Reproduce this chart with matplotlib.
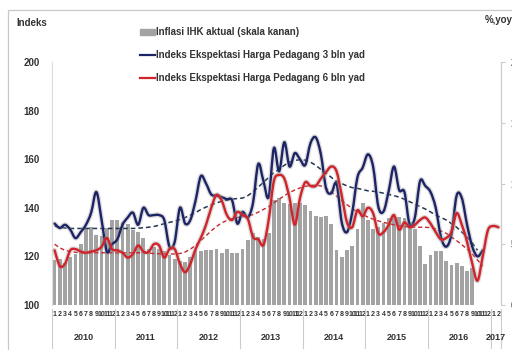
import numpy as np
import matplotlib
matplotlib.use("Agg")
import matplotlib.pyplot as plt
from matplotlib.path import Path
from matplotlib.patches import PathPatch, Rectangle
import matplotlib.patheffects as pe

plt.rcParams['font.family'] = ['Liberation Sans', 'DejaVu Sans']

# Data: monthly, Jan 2010 .. Feb 2017
years = ['2010', '2011', '2012', '2013', '2014', '2015', '2016', '2017']
n_months = 86

# CPI inflation (% yoy), Jan 2010 .. Sep 2016
inflasi = [3.72, 3.81, 3.43, 3.91, 4.16, 5.05, 6.22, 6.44, 5.80, 5.67, 6.33, 6.96,
           7.02, 6.84, 6.65, 6.16, 5.98, 5.54, 4.61, 4.79, 4.61, 4.42, 4.15, 3.79,
           3.65, 3.56, 3.97, 4.50, 4.45, 4.53, 4.56, 4.58, 4.31, 4.61, 4.32, 4.30,
           4.57, 5.31, 5.90, 5.57, 5.47, 5.90, 8.61, 8.79, 8.40, 8.32, 8.37, 8.38,
           8.22, 7.75, 7.32, 7.25, 7.32, 6.70, 4.53, 3.99, 4.53, 4.83, 6.23, 8.36,
           6.96, 6.29, 6.38, 6.79, 7.15, 7.26, 7.26, 7.18, 6.83, 6.25, 4.89, 3.35,
           4.14, 4.42, 4.45, 3.60, 3.33, 3.45, 3.21, 2.79, 3.07]

# price expectation index, 3 months ahead (Jan 2010 .. Nov 2016)
ekspektasi_3 = [133.5, 131.7, 133, 131, 127.5, 130, 133, 138, 146.5, 135, 122, 125,
                127, 133, 136, 138, 133, 140, 137, 137, 137, 135, 124, 126,
                140, 133.5, 135, 143, 153, 150, 145.5, 145, 144.4, 143.5, 143, 133.5,
                138.3, 136, 142, 158, 151, 144.4, 164.6, 155, 167, 157, 162.5, 160,
                157.6, 166.5, 169, 162, 148, 146, 150, 134, 130, 138, 152.5, 156.5,
                162, 157, 140.5, 138.5, 147, 157, 147.3, 146.5, 133, 136, 151, 149,
                146.5, 140, 128, 124, 129, 145, 144, 133, 124, 120, 122.5]

# price expectation index, 6 months ahead (Jan 2010 .. Feb 2017)
ekspektasi_6 = [122.5, 116, 117, 122.5, 123, 122, 121.5, 122, 122.5, 124, 127.6, 123,
                122.5, 121.5, 119.5, 121, 124.5, 122, 121.8, 125, 124.5, 119.5, 123, 123,
                117, 113.5, 117, 123, 127.6, 133, 140, 145.3, 143, 137, 135, 138.3,
                137, 135.5, 128, 127, 124.7, 135, 151, 153.5, 152, 144, 133, 144,
                150.5, 149, 149, 152, 154.7, 157, 155, 145, 134, 132, 139, 136.5,
                140, 137.8, 129.5, 130, 133, 137, 131, 134, 132, 133, 135, 136,
                133.5, 130, 127, 127.6, 130, 137.8, 133, 126, 117, 110, 120, 130.8,
                132.5, 132]

# trend of each expectation series
tren_3 = [132.5, 132, 131.7, 131.5, 131.5, 131.5, 131.5, 131.5, 131.5, 131.5, 131.5, 131.5,
          131.5, 131.5, 131.5, 131.5, 131.6, 131.8, 132, 132.3, 132.8, 133.5, 134, 134.5,
          135.2, 136, 137, 138, 139.3, 140.3, 141.2, 142, 142.7, 143.2, 143.6, 143.8,
          144, 145, 146.5, 148.5, 150.5, 152.5, 154.5, 155.8, 157.5, 158.8, 159.5, 159.8,
          159.6, 158.8, 157.5, 155.8, 154.3, 152.5, 151, 150, 149, 148.3, 148, 147.5,
          147, 146.8, 146.5, 146, 145.5, 145, 144.4, 143.5, 142.5, 141.5, 140.5, 139.5,
          138.3, 137, 136, 135, 133.5, 132, 130, 128, 125.5, 122.5]

tren_6 = [125, 123.5, 122.5, 122, 121.7, 121.5, 121.5, 121.5, 121.5, 121.5, 121.5, 121.5,
          121.5, 121.5, 121.5, 121.5, 121.5, 121.4, 121.3, 121.2, 121.1, 121, 121, 121,
          121.2, 121.8, 123, 124.5, 126.5, 128.5, 130.5, 132.3, 133.8, 134.8, 135.5, 136,
          136.3, 136.6, 137.2, 138.2, 139.3, 140.5, 142, 143.5, 145, 146.3, 147.3, 148.2,
          148.8, 149.2, 149.3, 149, 148, 146.5, 144.8, 143, 141.3, 139.7, 138.3, 137.2,
          136.2, 135.3, 134.6, 134, 133.5, 133, 132.6, 132.3, 132.1, 132, 132, 132,
          131.8, 131.3, 130.5, 129.5, 128, 126.5, 124.8, 123, 121, 118.5, 116]

month_labels = [str(m % 12 + 1) for m in range(n_months)]

TXT = '#333333'
BLUE = '#1c2466'
RED = '#d2232a'


def smooth_path(y):
    # Catmull-Rom through the monthly points, drawn as cubic bezier segments
    x = np.arange(len(y), dtype=float)
    y = np.asarray(y, dtype=float)
    pts = np.column_stack([x, y])
    verts = [pts[0]]
    codes = [Path.MOVETO]
    for i in range(len(pts) - 1):
        p0 = pts[i - 1] if i > 0 else pts[i]
        p1 = pts[i]
        p2 = pts[i + 1]
        p3 = pts[i + 2] if i + 2 < len(pts) else pts[i + 1]
        c1 = p1 + (p2 - p0) / 6.0
        c2 = p2 - (p3 - p1) / 6.0
        verts += [c1, c2, p2]
        codes += [Path.CURVE4] * 3
    return Path(verts, codes)


fig = plt.figure(figsize=(5.12, 3.5), dpi=100)
ax = fig.add_axes([52 / 512, 1 - 305 / 350, 449 / 512, 243 / 350])
ax_r = ax.twinx()

# bars on the right scale
ax_r.bar(np.arange(len(inflasi)), inflasi, width=0.72, color='#a3a3a3', zorder=1)
ax_r.set_ylim(0, 20)
ax_r.set_yticks([0, 5, 10, 15, 20])
ax_r.tick_params(axis='y', length=3, color='#cccccc', pad=4, labelsize=7, labelcolor=TXT)
for t in ax_r.get_yticklabels():
    t.set_fontweight('bold')

ax.set_zorder(ax_r.get_zorder() + 1)
ax.patch.set_visible(False)

shadow = [pe.Stroke(linewidth=3.6, foreground='#9a9a9a', alpha=0.35), pe.Normal()]
for series, col in [(ekspektasi_3, BLUE), (ekspektasi_6, RED)]:
    patch = PathPatch(smooth_path(series), fill=False, edgecolor=col, lw=1.7,
                      capstyle='round', joinstyle='round', zorder=3)
    patch.set_path_effects(shadow)
    ax.add_patch(patch)

ax.plot(np.arange(len(tren_3)), tren_3, color='#233650', lw=1.1, ls=(0, (3, 2)), zorder=2)
ax.plot(np.arange(len(tren_6)), tren_6, color='#c8262c', lw=1.0, ls=(0, (3, 2)), zorder=2)

ax.set_xlim(-0.5, n_months - 0.5)
ax.set_ylim(100, 200)
ax.set_yticks([100, 120, 140, 160, 180, 200])
ax.tick_params(axis='y', length=0, pad=9, labelsize=7, labelcolor=TXT)
for t in ax.get_yticklabels():
    t.set_fontweight('bold')

ax.set_xticks(np.arange(n_months))
ax.set_xticklabels(month_labels, fontsize=5, color=TXT, fontweight='bold')
ax.tick_params(axis='x', length=0, pad=4)

for a in (ax, ax_r):
    a.spines['top'].set_visible(False)
    a.spines['bottom'].set_visible(False)
    a.spines['left'].set_color('#dddddd')
    a.spines['right'].set_color('#cccccc')
    a.spines['left'].set_linewidth(0.8)
    a.spines['right'].set_linewidth(0.8)

# year blocks below the month numbers
trans = ax.get_xaxis_transform()
for k, yr in enumerate(years):
    start = k * 12 - 0.5
    end = min(start + 12, n_months - 0.5)
    ax.plot([start, start], [-0.015, -0.175], color='#cccccc', lw=0.8,
            transform=trans, clip_on=False)
    ax.text((start + end) / 2, -0.132, yr, transform=trans, ha='center', va='center',
            fontsize=6.5, fontweight='bold', color=TXT)
ax.plot([n_months - 0.5] * 2, [-0.015, -0.175], color='#cccccc', lw=0.8,
        transform=trans, clip_on=False)

# axis titles
fig.text(16 / 512, 1 - 23 / 350, 'Indeks', fontsize=7, fontweight='bold', color=TXT,
         va='center', ha='left')
fig.text(485 / 512, 1 - 20 / 350, '%,yoy', fontsize=7, fontweight='bold', color=TXT,
         va='center', ha='left')

# legend
leg_x = 140 / 512
items = [('Inflasi IHK aktual (skala kanan)', 'bar', '#a3a3a3', 32),
         ('Indeks Ekspektasi Harga Pedagang 3 bln yad', 'line', BLUE, 55),
         ('Indeks Ekspektasi Harga Pedagang 6 bln yad', 'line', RED, 78)]
for label, kind, col, ypx in items:
    yf = 1 - ypx / 350
    if kind == 'bar':
        fig.patches.append(Rectangle((leg_x, yf - 3 / 350), 15 / 512, 6 / 350,
                                     transform=fig.transFigure, color=col))
    else:
        fig.add_artist(plt.Line2D([leg_x, leg_x + 15 / 512], [yf, yf], color=col,
                                  lw=1.6, transform=fig.transFigure))
    fig.text(leg_x + 16 / 512, yf, label, fontsize=7, fontweight='bold', color=TXT,
             va='center', ha='left')

# outer frame
fig.patches.append(Rectangle((8 / 512, -0.1), 1.2, 1 - 10 / 350 + 0.1, fill=False,
                             edgecolor='#c8c8c8', lw=0.9, transform=fig.transFigure))

fig.savefig('out.png', dpi=100)
